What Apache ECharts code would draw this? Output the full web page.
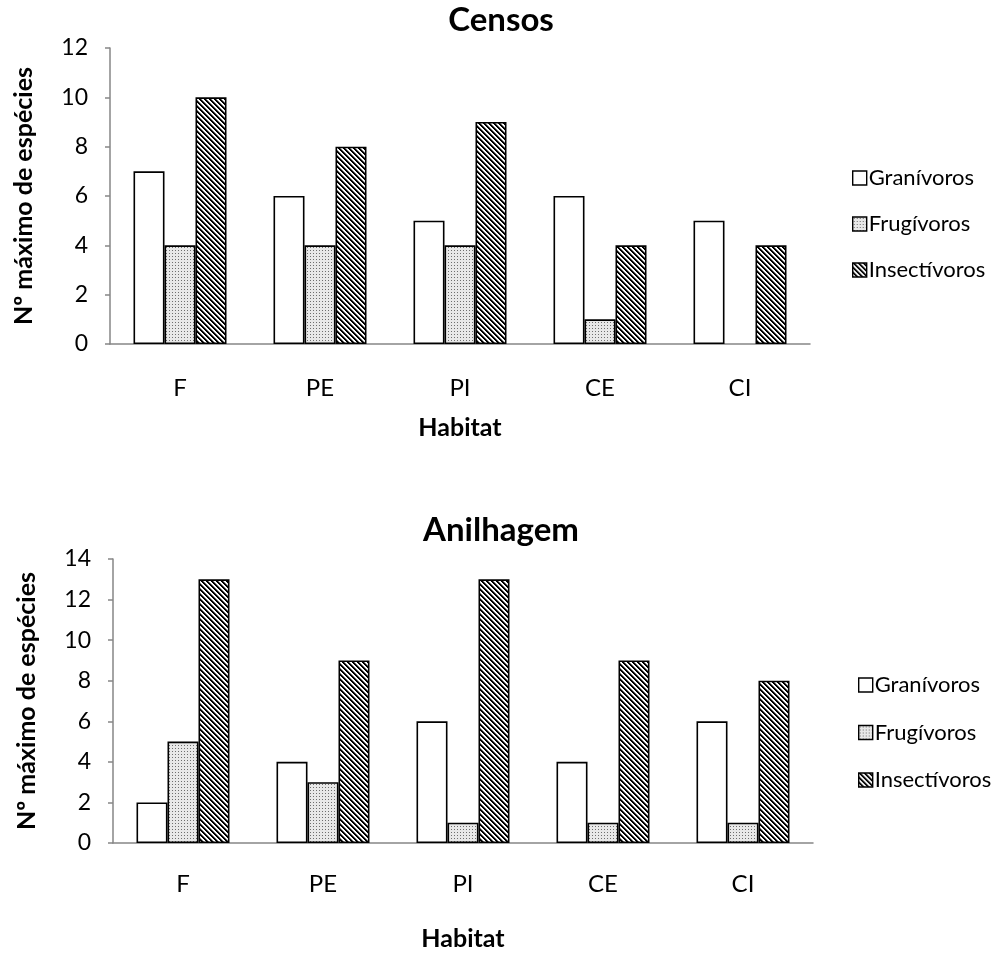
<!DOCTYPE html>
<html>
<head>
<meta charset="utf-8">
<script src="https://cdn.jsdelivr.net/npm/echarts@6/dist/echarts.min.js"></script>
<style>
  html, body { margin: 0; padding: 0; background: #fff; }
  #chart { width: 991px; height: 953px; }
</style>
</head>
<body>
<div id="chart"></div>
<script>
// Habitat categories shared by both panels
const habitats = ['F', 'PE', 'PI', 'CE', 'CI'];
const seriesNames = ['Granívoros', 'Frugívoros', 'Insectívoros'];

// Censos: maximum number of species per guild
const censosGranivoros = [7, 6, 5, 6, 5];
const censosFrugivoros = [4, 4, 4, 1, 0];
const censosInsectivoros = [10, 8, 9, 4, 4];

// Anilhagem: maximum number of species per guild
const anilhGranivoros = [2, 4, 6, 4, 6];
const anilhFrugivoros = [5, 3, 1, 1, 1];
const anilhInsectivoros = [13, 9, 13, 9, 8];

const FONT = 'Lato, "Open Sans", sans-serif';
const AXIS_GREY = '#868686';

// Fill patterns drawn on small tiles
function makeTile(size, painter) {
  const c = document.createElement('canvas');
  c.width = size; c.height = size;
  const ctx = c.getContext('2d');
  const img = ctx.createImageData(size, size);
  for (let y = 0; y < size; y++) {
    for (let x = 0; x < size; x++) {
      const v = painter(x, y);
      const i = (y * size + x) * 4;
      img.data[i] = v; img.data[i + 1] = v; img.data[i + 2] = v; img.data[i + 3] = 255;
    }
  }
  ctx.putImageData(img, 0, 0);
  return c;
}
// fine dot grid on light grey
const dotTile = makeTile(3, (x, y) => (x === 1 && y === 1) ? 110 : 232);
// wide downward diagonal stripes
const stripeTile = makeTile(10, (x, y) => {
  const d = ((x - y) % 5 + 5) % 5;
  return d < 2 ? 0 : (d === 2 ? 120 : 255);
});

const fills = [
  '#ffffff',
  { image: dotTile, repeat: 'repeat' },
  { image: stripeTile, repeat: 'repeat' }
];

function barSeries(name, values, idx, fillIdx) {
  return {
    name: name,
    type: 'bar',
    xAxisIndex: idx,
    yAxisIndex: idx,
    // an empty category leaves no outline on the axis
    data: values.map(v => v === 0 ? { value: v, itemStyle: { borderWidth: 0 } } : v),
    barWidth: 31,
    barGap: '0%',
    itemStyle: { color: fills[fillIdx], borderColor: '#000', borderWidth: 1.6 },
    emphasis: { disabled: true },
    animation: false
  };
}

function xAxisCfg(idx, nameGap, labelMargin) {
  return {
    type: 'category',
    gridIndex: idx,
    data: habitats,
    axisLine: { lineStyle: { color: AXIS_GREY, width: 1.5 } },
    axisTick: { show: false },
    axisLabel: { color: '#000', fontSize: 24, fontFamily: FONT, margin: labelMargin },
    name: 'Habitat',
    nameLocation: 'middle',
    nameGap: nameGap,
    nameTextStyle: { color: '#000', fontSize: 25, fontWeight: 'bold', fontFamily: FONT }
  };
}

function yAxisCfg(idx, max) {
  return {
    type: 'value',
    gridIndex: idx,
    min: 0,
    max: max,
    interval: 2,
    splitLine: { show: false },
    axisLine: { show: true, lineStyle: { color: AXIS_GREY, width: 1.5 } },
    axisTick: { show: true, inside: false, length: 5, lineStyle: { color: AXIS_GREY, width: 1.5 } },
    axisLabel: { color: '#000', fontSize: 23, fontFamily: FONT, margin: 22 },
    name: 'Nº máximo de espécies',
    nameLocation: 'middle',
    nameGap: 74,
    nameTextStyle: { color: '#000', fontSize: 25, fontWeight: 'bold', fontFamily: FONT }
  };
}

function legendCfg(left, top, gap) {
  return {
    orient: 'vertical',
    left: left,
    top: top,
    data: seriesNames,
    itemWidth: 14,
    itemHeight: 14,
    itemGap: gap,
    icon: 'rect',
    selectedMode: false,
    textStyle: { color: '#000', fontSize: 22, fontFamily: FONT, lineHeight: 24, padding: [0, 0, 0, -3] },
    itemStyle: { borderColor: '#000', borderWidth: 1.4 }
  };
}

const chart = echarts.init(document.getElementById('chart'), null, { renderer: 'canvas' });

chart.setOption({
  backgroundColor: '#fff',
  animation: false,
  title: [
    { text: 'Censos', left: 501, top: 4, textAlign: 'center', padding: 0,
      textStyle: { fontSize: 33, fontWeight: 'bold', fontFamily: FONT, color: '#000' } },
    { text: 'Anilhagem', left: 501, top: 514, textAlign: 'center', padding: 0,
      textStyle: { fontSize: 33, fontWeight: 'bold', fontFamily: FONT, color: '#000' } }
  ],
  legend: [
    Object.assign(legendCfg(847, 161, 22), { id: 'lg0' }),
    Object.assign(legendCfg(853, 668, 23.5), { id: 'lg1' })
  ],
  grid: [
    { left: 110, top: 48, width: 700, height: 296 },
    { left: 113, top: 559, width: 700, height: 284 }
  ],
  xAxis: [xAxisCfg(0, 71, 32), xAxisCfg(1, 83, 29)],
  yAxis: [yAxisCfg(0, 12), yAxisCfg(1, 14)],
  series: [
    barSeries(seriesNames[0], censosGranivoros, 0, 0),
    barSeries(seriesNames[1], censosFrugivoros, 0, 1),
    barSeries(seriesNames[2], censosInsectivoros, 0, 2),
    barSeries(seriesNames[0], anilhGranivoros, 1, 0),
    barSeries(seriesNames[1], anilhFrugivoros, 1, 1),
    barSeries(seriesNames[2], anilhInsectivoros, 1, 2)
  ]
});
</script>
</body>
</html>
